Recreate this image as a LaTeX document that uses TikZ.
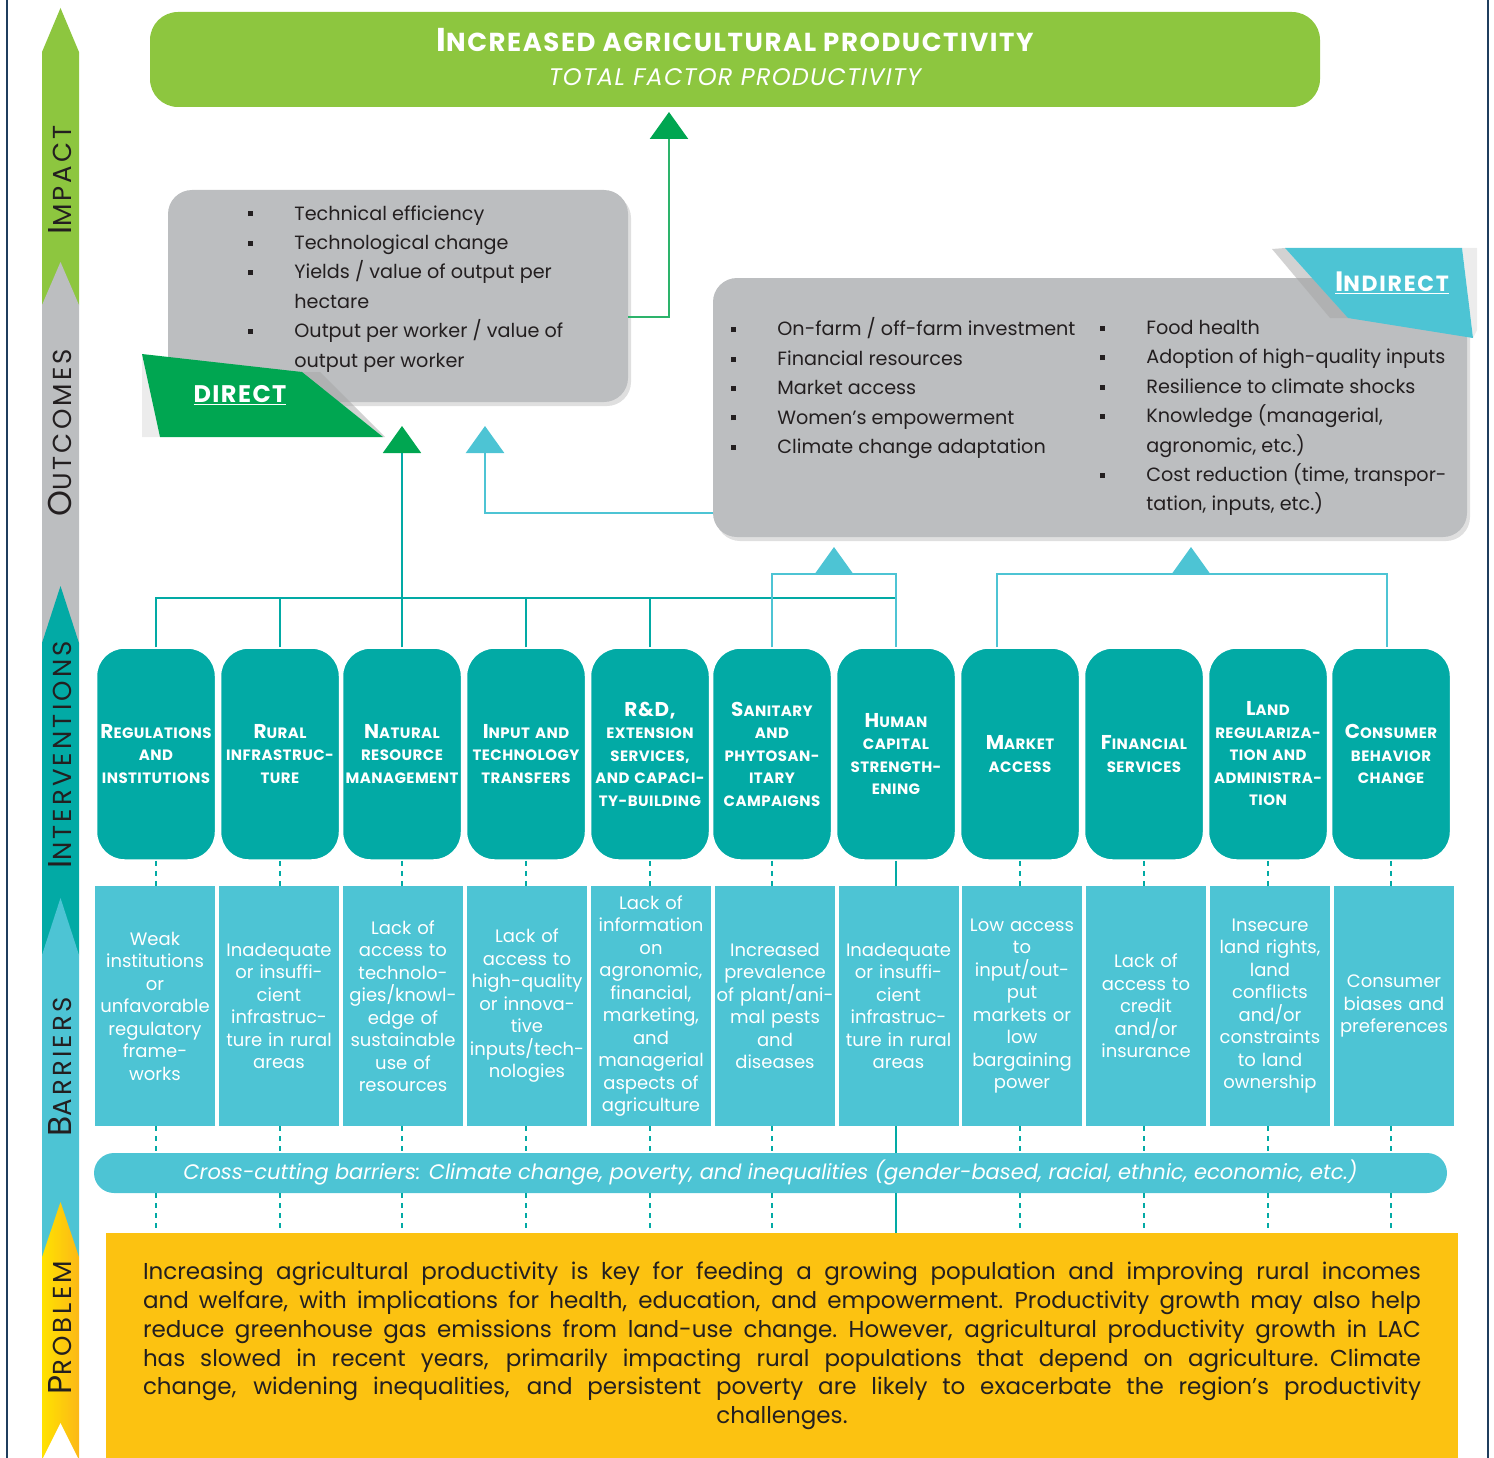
\documentclass[tikz,border=0pt]{standalone}
\usepackage{fontspec}
\setmainfont{Poppins}
\usetikzlibrary{arrows.meta,shadows}

\definecolor{impgreen}{HTML}{8DC63F}
\definecolor{dirgreen}{HTML}{00A651}
\definecolor{lngreen}{HTML}{2DB36B}
\definecolor{outgray}{HTML}{BCBEC0}
\definecolor{intteal}{HTML}{02AAA5}
\definecolor{barblue}{HTML}{4DC4D4}
\definecolor{probyellow}{HTML}{FCC211}
\definecolor{probA}{HTML}{FFE200}
\definecolor{probB}{HTML}{FCB817}
\definecolor{framenavy}{HTML}{1F3E5E}
\definecolor{inkdark}{HTML}{231F20}

\tikzset{every picture/.style={line width=0.75pt}}

\newcommand{\Ini}[2][20]{{\fontsize{#1}{#1}\selectfont #2}}
\newcommand{\sqb}{\makebox[46pt][l]{\rule[0.2em]{5pt}{5pt}}}
\newcommand{\nob}{\makebox[46pt][l]{}}

\tikzset{
  intbox/.style={rectangle, rounded corners=28pt, fill=intteal, draw=white, line width=1.5pt,
    minimum width=119pt, minimum height=212pt, text width=117pt, inner sep=0pt, align=center,
    text=white, font=\bfseries\fontsize{15}{22.5}\selectfont\addfontfeatures{LetterSpace=3}},
  barbox/.style={rectangle, fill=barblue, minimum width=120pt, minimum height=240pt, text width=118pt,
    inner sep=0pt, align=center, text=white, font=\fontsize{18}{22.5}\selectfont},
  outbox/.style={rectangle, rounded corners=24pt, fill=outgray, inner sep=0pt,
    drop shadow={opacity=0.25, shadow xshift=3pt, shadow yshift=-4pt}},
  listtxt/.style={anchor=north west, inner sep=0pt, align=left, text=inkdark,
    font=\fontsize{19.2}{29.4}\selectfont},
  barlbl/.style={rotate=90, inner sep=0pt, text=inkdark,
    font=\fontsize{26}{26}\selectfont\addfontfeatures{LetterSpace=12}},
  tealln/.style={draw=intteal, line width=2pt},
  blueln/.style={draw=barblue, line width=2.5pt},
  greenln/.style={draw=lngreen, line width=2.5pt},
  dashln/.style={draw=intteal, line width=1.6pt, dash pattern=on 5pt off 5pt},
  uptip/.style={-{Triangle[width=38pt,length=27pt]}},
  greentip/.style={-{Triangle[width=38pt,length=27pt,color=dirgreen]}},
}

\begin{document}
\begin{tikzpicture}[x=1pt,y=1pt,yscale=-1]
\useasboundingbox (0,0) rectangle (1494,1458);

%Frame
\draw[framenavy, line width=2pt] (7,0) -- (7,1458);
\draw[framenavy, line width=2pt] (1488,0) -- (1488,1458);

%Left bar
\fill[impgreen] (42,305) -- (42,52) -- (60.5,8) -- (79,52) -- (79,305) -- cycle;
\fill[outgray] (42,643) -- (42,305) -- (60.5,262) -- (79,305) -- (79,643) -- cycle;
\fill[intteal] (42,955) -- (42,643) -- (60.5,586) -- (79,643) -- (79,955) -- cycle;
\fill[barblue] (42,1257) -- (42,955) -- (60.5,898) -- (79,955) -- (79,1257) -- cycle;
\shade[left color=probA, right color=probB] (42,1458) -- (42,1257) -- (60.5,1202) -- (79,1257) -- (79,1458) -- cycle;
\fill[white] (42,1460) -- (60.5,1423) -- (79,1460) -- cycle;

% Text Node
\node[barlbl] (lblimp) at (60,180) {\Ini[33]{I}MPACT};
\node[barlbl] (lblout) at (60,433) {\Ini[33]{O}UTCOMES};
\node[barlbl] (lblint) at (60,755) {\Ini[33]{I}NTERVENTIONS};
\node[barlbl] (lblbar) at (60,1067) {\Ini[33]{B}ARRIERS};
\node[barlbl] (lblpro) at (60,1328) {\Ini[33]{P}ROBLEM};

%Impact
\node[fill=impgreen, rounded corners=28pt, minimum width=1170pt, minimum height=95pt, inner sep=0pt] (topbox) at (735,59.5) {};
\node[text=white, font=\bfseries\fontsize{26}{26}\selectfont\addfontfeatures{LetterSpace=6}] (toptitle) at (735,40) {\Ini[33]{I}NCREASED AGRICULTURAL PRODUCTIVITY};
\node[text=white, font=\itshape\fontsize{24}{24}\selectfont\addfontfeatures{LetterSpace=5}] (topsub) at (735,77) {TOTAL FACTOR PRODUCTIVITY};

%Outcomes
\node[outbox, minimum width=460pt, minimum height=212pt] (dirbox) at (398,296) {};
\node[outbox, minimum width=754pt, minimum height=259pt] (indbox) at (1090,407.5) {};

\node[listtxt] (dirlist) at (248,205) {\sqb Technical efficiency\\ \sqb Technological change\\
  \sqb Yields / value of output per\\ \nob hectare\\ \sqb Output per worker / value of\\ \nob output per worker};
\node[listtxt] (indlistl) at (731,317.5) {\sqb On-farm / off-farm investment\\ \sqb Financial resources\\
  \sqb Market access\\ \sqb Women’s empowerment\\ \sqb Climate change adaptation};
\node[listtxt] (indlistr) at (1100,320) {\sqb Food health\\ \sqb Adoption of high-quality inputs\\
  \sqb Resilience to climate shocks\\ \sqb Knowledge (managerial,\\ \nob agronomic, etc.)\\
  \sqb Cost reduction (time, transpor-\\ \nob tation, inputs, etc.)};

%Tags
\fill[gray!15] (142,354) -- (142,437) -- (160,437) -- cycle;
\fill[gray!70, opacity=0.5] (302,372) -- (320,372) -- (385,437) -- (383,437) -- cycle;
\fill[dirgreen] (142,354) -- (302,372) -- (383,437) -- (160,437) -- cycle;
\node[text=white, font=\bfseries\fontsize{24}{24}\selectfont\addfontfeatures{LetterSpace=6}] (dirlbl) at (240,395) {\underline{DIRECT}};

\fill[gray!15] (1462,248) -- (1477,248) -- (1477,330) -- (1473,338) -- cycle;
\fill[gray!70, opacity=0.5] (1272,249) -- (1285,248) -- (1348,318) -- (1330,318) -- cycle;
\fill[barblue] (1285,248) -- (1462,248) -- (1473,338) -- (1348,318) -- cycle;
\node[text=white, font=\bfseries\fontsize{22}{22}\selectfont\addfontfeatures{LetterSpace=8}] (indlbl) at (1392,283) {\underline{\Ini[28]{I}NDIRECT}};

%Interventions
\node[intbox] (i1) at (156,754) {\Ini{R}EGULATIONS\\AND\\INSTITUTIONS};
\node[intbox] (i2) at (280,754) {\Ini{R}URAL\\INFRASTRUC-\\TURE};
\node[intbox] (i3) at (402,754) {\Ini{N}ATURAL\\RESOURCE\\MANAGEMENT};
\node[intbox] (i4) at (526,754) {\Ini{I}NPUT AND\\TECHNOLOGY\\TRANSFERS};
\node[intbox] (i5) at (650,754) {\Ini{R\&D,}\\EXTENSION\\SERVICES,\\AND CAPACI-\\TY-BUILDING};
\node[intbox] (i6) at (772,754) {\Ini{S}ANITARY\\AND\\PHYTOSAN-\\ITARY\\CAMPAIGNS};
\node[intbox] (i7) at (896,754) {\Ini{H}UMAN\\CAPITAL\\STRENGTH-\\ENING};
\node[intbox] (i8) at (1020,754) {\Ini{M}ARKET\\ACCESS};
\node[intbox] (i9) at (1144,754) {\Ini{F}INANCIAL\\SERVICES};
\node[intbox] (i10) at (1268,754) {\Ini{L}AND\\REGULARIZA-\\TION AND\\ADMINISTRA-\\TION};
\node[intbox] (i11) at (1391,754) {\Ini{C}ONSUMER\\BEHAVIOR\\CHANGE};

%Barriers
\node[barbox] (b1) at (155,1006) {Weak\\institutions\\or\\unfavorable\\regulatory\\frame-\\works};
\node[barbox] (b2) at (279,1006) {Inadequate\\or insuffi-\\cient\\infrastruc-\\ture in rural\\areas};
\node[barbox] (b3) at (403,1006) {Lack of\\access to\\technolo-\\gies/knowl-\\edge of\\sustainable\\use of\\resources};
\node[barbox] (b4) at (527,1006) {Lack of\\access to\\high-quality\\or innova-\\tive\\inputs/tech-\\nologies};
\node[barbox] (b5) at (651,1006) {Lack of\\information\\on\\agronomic,\\financial,\\marketing,\\and\\managerial\\aspects of\\agriculture};
\node[barbox] (b6) at (775,1006) {Increased\\prevalence\\of plant/ani-\\mal pests\\and\\diseases};
\node[barbox] (b7) at (898.5,1006) {Inadequate\\or insuffi-\\cient\\infrastruc-\\ture in rural\\areas};
\node[barbox] (b8) at (1022,1006) {Low access\\to\\input/out-\\put\\markets or\\low\\bargaining\\power};
\node[barbox] (b9) at (1146,1006) {Lack of\\access to\\credit\\and/or\\insurance};
\node[barbox] (b10) at (1270,1006) {Insecure\\land rights,\\land\\conflicts\\and/or\\constraints\\to land\\ownership};
\node[barbox] (b11) at (1394,1006) {Consumer\\biases and\\preferences};

\node[fill=barblue, rounded corners=20pt, minimum width=1353pt, minimum height=40pt, inner sep=0pt,
  text=white, font=\itshape\fontsize{21}{21}\selectfont] (cross) at (770.5,1173)
  {Cross-cutting barriers: Climate change, poverty, and inequalities (gender-based, racial, ethnic, economic, etc.)};

%Problem
\node[fill=probyellow, minimum width=1352pt, minimum height=226pt, text width=1278pt, inner sep=0pt,
  text=inkdark, font=\fontsize{23}{28.8}\selectfont] (prob) at (782,1346)
  {\spaceskip=\fontdimen2\font plus 0.6\fontdimen2\font minus 0.3\fontdimen2\font
  \leftskip=0pt plus 1fil\rightskip=0pt plus -1fil\parfillskip=0pt plus 2fil\tolerance=9999\hyphenpenalty=10000
  Increasing agricultural productivity is key for feeding a growing population and improving rural incomes\linebreak
  and welfare, with implications for health, education, and empowerment. Productivity growth may also help\linebreak
  reduce greenhouse gas emissions from land-use change. However, agricultural productivity growth in LAC\linebreak
  has slowed in recent years, primarily impacting rural populations that depend on agriculture. Climate\linebreak
  change, widening inequalities, and persistent poverty are likely to exacerbate the region’s productivity\linebreak
  challenges.\par};

%Dashed Lines
\draw[dashln] (i1.south) -- (i1.south |- b1.north) (i1.south |- b1.south) -- (i1.south |- cross.north) (i1.south |- cross.south) -- (i1.south |- prob.north);
\draw[dashln] (i2.south) -- (i2.south |- b2.north) (i2.south |- b2.south) -- (i2.south |- cross.north) (i2.south |- cross.south) -- (i2.south |- prob.north);
\draw[dashln] (i3.south) -- (i3.south |- b3.north) (i3.south |- b3.south) -- (i3.south |- cross.north) (i3.south |- cross.south) -- (i3.south |- prob.north);
\draw[dashln] (i4.south) -- (i4.south |- b4.north) (i4.south |- b4.south) -- (i4.south |- cross.north) (i4.south |- cross.south) -- (i4.south |- prob.north);
\draw[dashln] (i5.south) -- (i5.south |- b5.north) (i5.south |- b5.south) -- (i5.south |- cross.north) (i5.south |- cross.south) -- (i5.south |- prob.north);
\draw[dashln] (i6.south) -- (i6.south |- b6.north) (i6.south |- b6.south) -- (i6.south |- cross.north) (i6.south |- cross.south) -- (i6.south |- prob.north);
\draw[tealln, line width=1.6pt] (i7.south) -- (i7.south |- b7.north) (i7.south |- b7.south) -- (i7.south |- cross.north) (i7.south |- cross.south) -- (i7.south |- prob.north);
\draw[dashln] (i8.south) -- (i8.south |- b8.north) (i8.south |- b8.south) -- (i8.south |- cross.north) (i8.south |- cross.south) -- (i8.south |- prob.north);
\draw[dashln] (i9.south) -- (i9.south |- b9.north) (i9.south |- b9.south) -- (i9.south |- cross.north) (i9.south |- cross.south) -- (i9.south |- prob.north);
\draw[dashln] (i10.south) -- (i10.south |- b10.north) (i10.south |- b10.south) -- (i10.south |- cross.north) (i10.south |- cross.south) -- (i10.south |- prob.north);
\draw[dashln] (i11.south) -- (i11.south |- b11.north) (i11.south |- b11.south) -- (i11.south |- cross.north) (i11.south |- cross.south) -- (i11.south |- prob.north);

%Connectors
\coordinate (dirhub) at (401,598);
\coordinate (dirtip) at (401,426);
\coordinate (hubA) at (834,574);
\coordinate (indtipA) at (834,547);
\coordinate (hubB) at (1191,574);
\coordinate (indtipB) at (1191,547);
\coordinate (indleft) at (713,513);
\coordinate (indtipC) at (485,426);
\coordinate (dirright) at (628,317);
\coordinate (toptip) at (669,112);

\draw[tealln] (i1.north) |- (dirhub) -| (i7.north);
\draw[tealln] (i2.north) -- (i2.north |- dirhub);
\draw[tealln] (i4.north) -- (i4.north |- dirhub);
\draw[tealln] (i5.north) -- (i5.north |- dirhub);
\draw[tealln, greentip] (i3.north) -- (i3.north |- dirtip);

\draw[blueln] (i6.north) |- (hubA) -| (i7.north);
\draw[blueln, uptip] (hubA) -- (indtipA);
\draw[blueln] ([xshift=-23pt]i8.north) |- (hubB) -| ([xshift=-4pt]i11.north);
\draw[blueln, uptip] (hubB) -- (indtipB);
\draw[blueln, uptip] (indleft) -| (indtipC);

\draw[greenln, greentip] (dirright) -| (toptip);

\end{tikzpicture}
\end{document}
